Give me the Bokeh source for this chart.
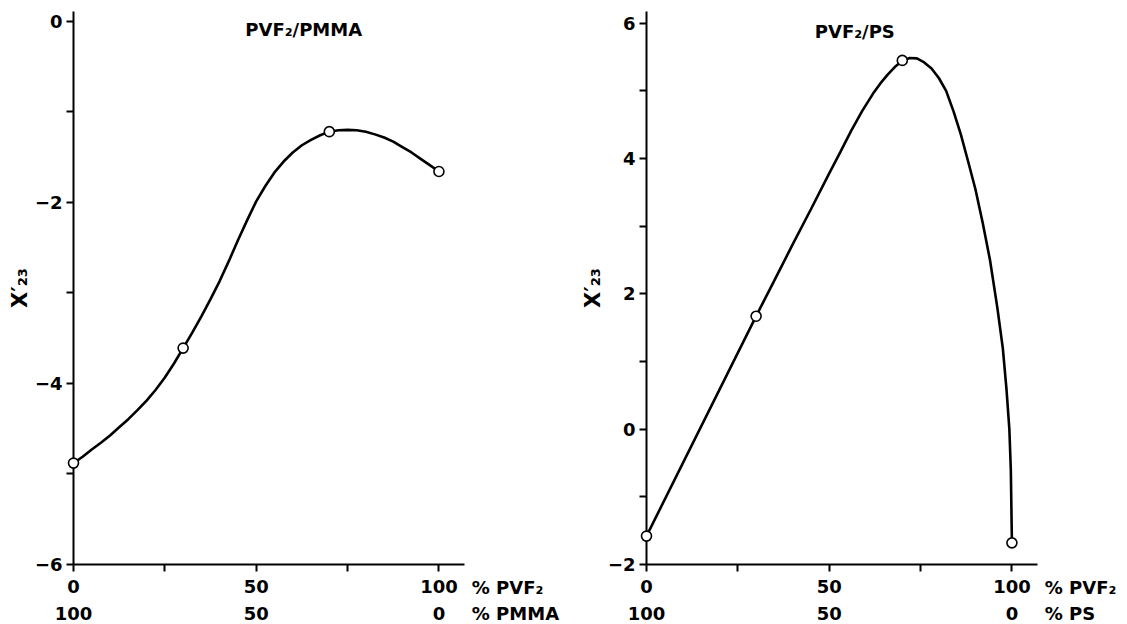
from bokeh.plotting import figure
from bokeh.models import FixedTicker, Label, Range1d
from bokeh.core.properties import value
from bokeh.layouts import row
from bokeh.embed import file_html
from bokeh.resources import INLINE

# ---------------- data ----------------
pmma_x = [0, 30, 70, 100]
pmma_y = [-4.88, -3.61, -1.22, -1.66]
pmma_curve_x = [0, 2.5, 5, 7.5, 10, 12.5, 15, 17.5, 20, 22.5, 25, 27.5, 30,
                32.5, 35, 37.5, 40, 42.5, 45, 47.5, 50, 52.5, 55, 57.5, 60,
                62.5, 65, 67.5, 70, 72.5, 75, 77.5, 80, 82.5, 85, 87.5, 90,
                92.5, 95, 97.5, 100]
pmma_curve_y = [-4.88, -4.81, -4.73, -4.655, -4.575, -4.485, -4.395, -4.295,
                -4.19, -4.07, -3.935, -3.78, -3.61,
                -3.44, -3.26, -3.07, -2.87, -2.65, -2.42, -2.20, -1.99, -1.82,
                -1.67, -1.55, -1.45, -1.37, -1.31, -1.26, -1.22, -1.205, -1.20,
                -1.205, -1.22, -1.25, -1.285, -1.33, -1.39, -1.45, -1.52, -1.59, -1.66]

ps_x = [0, 30, 70, 100]
ps_y = [-1.58, 1.67, 5.45, -1.68]
ps_curve_x = [0, 30, 35, 40, 45, 50, 53, 56, 59, 62, 64, 66, 68, 70, 72, 74,
              76, 78, 80, 82, 84, 86, 88, 90, 92, 94, 96, 97.5, 98.5, 99.3,
              99.7, 100]
ps_curve_y = [-1.58, 1.67, 2.20, 2.73, 3.25, 3.78, 4.09, 4.41, 4.70, 4.96, 5.11,
              5.24, 5.355, 5.44, 5.485, 5.48, 5.42, 5.33, 5.19, 5.00, 4.70, 4.36,
              3.96, 3.55, 3.05, 2.50, 1.80, 1.20, 0.60, 0.0, -0.6, -1.68]

x_ticks = [0, 25, 50, 75, 100]
x_tick_labels = {0: "0", 25: "", 50: "50", 75: "", 100: "100"}
second_row_ticks = [0, 50, 100]
second_row_labels = ["100", "50", "0"]

pmma_y_ticks = [-6, -5, -4, -3, -2, -1, 0]
pmma_y_labels = {-6: "\u22126", -5: "", -4: "\u22124", -3: "", -2: "\u22122", -1: "", 0: "0"}
ps_y_ticks = [-2, -1, 0, 1, 2, 3, 4, 5, 6]
ps_y_labels = {-2: "\u22122", -1: "", 0: "0", 1: "", 2: "2", 3: "", 4: "4", 5: "", 6: "6"}

y_title = "X\u2032\u2082\u2083"
FONT = "DejaVu Sans"


def style_axis(ax, size="18px"):
    ax.major_label_text_font = FONT
    ax.major_label_text_font_style = "bold"
    ax.major_label_text_font_size = size
    ax.major_label_text_color = "black"
    ax.minor_tick_line_color = None


def make_panel(title, comp2, cx, cy, px, py, yr, yticks, ylabels,
               width, border_left, border_right, title_pos, row1_y, row2_y):
    p = figure(width=width, height=624, output_backend="svg", toolbar_location=None,
               x_range=Range1d(0, 107), y_range=Range1d(*yr),
               min_border_left=border_left, min_border_right=border_right,
               min_border_top=11, min_border_bottom=60)
    p.outline_line_color = None
    p.xgrid.grid_line_color = None
    p.ygrid.grid_line_color = None
    p.background_fill_color = "white"
    p.border_fill_color = "white"

    # x axis: first row of labels (% PVF2)
    xa = p.xaxis[0]
    xa.ticker = FixedTicker(ticks=x_ticks)
    xa.major_label_overrides = x_tick_labels
    xa.axis_line_color = "black"
    xa.axis_line_width = 2
    xa.major_tick_out = 7
    xa.major_tick_in = 0
    xa.major_tick_line_width = 2
    xa.major_label_standoff = 8
    style_axis(xa)

    ya = p.yaxis[0]
    ya.ticker = FixedTicker(ticks=yticks)
    ya.major_label_overrides = ylabels
    ya.axis_line_color = "black"
    ya.axis_line_width = 2
    ya.major_tick_out = 7
    ya.major_tick_in = 0
    ya.major_tick_line_width = 2
    ya.major_label_standoff = 4
    style_axis(ya)
    ya.axis_label = y_title
    ya.axis_label_standoff = 0
    ya.axis_label_text_font = FONT
    ya.axis_label_text_font_style = "bold"
    ya.axis_label_text_font_size = "21px"
    ya.axis_label_text_color = "black"

    # curve and points (overlay level so that points on the axis are not cut)
    p.line(cx, cy, line_color="black", line_width=2.6, level="overlay")
    p.scatter(px, py, size=10, fill_color="white", line_color="black",
              line_width=1.6, level="overlay")

    # title
    p.add_layout(Label(x=title_pos[0], y=title_pos[1], text=title, text_align="center",
                       text_baseline="middle", text_font=FONT, text_font_style="bold",
                       text_font_size="18px", text_color="black"))
    # second row of composition labels (other polymer)
    p.text(x=second_row_ticks, y=[row2_y] * len(second_row_ticks), text=second_row_labels,
           text_align="center", text_baseline="middle", text_font=value(FONT),
           text_font_style="bold", text_font_size="18px", text_color="black",
           level="overlay")
    # composition unit labels at the right end of the two rows
    p.text(x=[109, 109], y=[row1_y, row2_y], text=["% PVF\u2082", "% " + comp2],
           text_align="left", text_baseline="middle", text_font=value(FONT),
           text_font_style="bold", text_font_size="18px", text_color="black",
           level="overlay")
    return p


p1 = make_panel("PVF\u2082/PMMA", "PMMA", pmma_curve_x, pmma_curve_y, pmma_x, pmma_y,
                (-6, 0.107), pmma_y_ticks, pmma_y_labels,
                577, 73, 113, (63, -0.09), -6.254, -6.541)
p2 = make_panel("PVF\u2082/PS", "PS", ps_curve_x, ps_curve_y, ps_x, ps_y,
                (-2, 6.173), ps_y_ticks, ps_y_labels,
                550, 69, 90, (57, 5.88), -2.340, -2.724)

layout = row(p1, p2)
open("out.html", "w").write(file_html(layout, INLINE))
